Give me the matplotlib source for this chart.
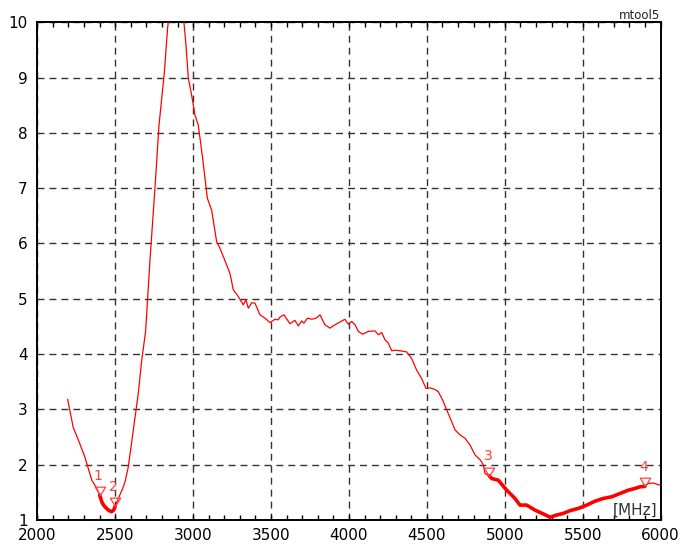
import numpy as np
import matplotlib
matplotlib.use("Agg")
import matplotlib.pyplot as plt
from matplotlib.ticker import MultipleLocator
from matplotlib.path import Path

# trace (MHz, value)
freq = [2195, 2230, 2270, 2305, 2350, 2380, 2400, 2415, 2430, 2445, 2460, 2477, 2490, 2500,
        2520, 2545, 2563, 2584, 2605, 2627, 2648, 2670, 2695, 2723, 2755, 2781, 2794, 2815,
        2836, 2860, 2900, 2930, 2941, 2954, 2969, 2990, 3012, 3033, 3061, 3091, 3119, 3151,
        3168, 3200, 3236, 3258, 3290, 3322, 3339, 3354, 3376, 3397, 3429, 3461, 3493, 3525,
        3546, 3557, 3583, 3621, 3653, 3675, 3697, 3711, 3733, 3761, 3789, 3814, 3846, 3878,
        3910, 3942, 3974, 3996, 4017, 4039, 4060, 4088, 4124, 4167, 4189, 4210, 4231, 4252,
        4274, 4295, 4327, 4370, 4402, 4434, 4466, 4494, 4520, 4552, 4573, 4601, 4627, 4659,
        4680, 4712, 4744, 4776, 4808, 4841, 4862, 4873, 4900, 4916, 4958, 5012, 5065, 5097,
        5140, 5193, 5247, 5290, 5333, 5376, 5419, 5472, 5526, 5578, 5632, 5686, 5739, 5793,
        5835, 5867, 5900, 5920, 5952, 5995]
value = [3.18, 2.68, 2.40, 2.14, 1.72, 1.58, 1.45, 1.32, 1.25, 1.21, 1.17, 1.15, 1.18, 1.25,
         1.39, 1.55, 1.69, 1.96, 2.40, 2.87, 3.29, 3.89, 4.41, 5.70, 7.00, 8.14, 8.50, 9.08,
         9.89, 10.5, 10.8, 10.5, 10.0, 9.59, 8.99, 8.69, 8.32, 8.14, 7.54, 6.82, 6.60, 6.03,
         5.94, 5.72, 5.46, 5.16, 5.04, 4.89, 4.98, 4.83, 4.93, 4.92, 4.71, 4.65, 4.57, 4.63,
         4.62, 4.67, 4.71, 4.55, 4.61, 4.51, 4.60, 4.56, 4.65, 4.63, 4.65, 4.71, 4.53, 4.47,
         4.53, 4.58, 4.63, 4.54, 4.59, 4.53, 4.41, 4.36, 4.41, 4.42, 4.35, 4.39, 4.26, 4.20,
         4.06, 4.07, 4.06, 4.04, 3.92, 3.71, 3.56, 3.38, 3.39, 3.36, 3.32, 3.17, 2.99, 2.78,
         2.63, 2.54, 2.48, 2.36, 2.18, 2.09, 2.00, 1.84, 1.80, 1.75, 1.72, 1.54, 1.39, 1.27,
         1.27, 1.18, 1.11, 1.05, 1.09, 1.12, 1.17, 1.21, 1.27, 1.34, 1.39, 1.42, 1.48, 1.54,
         1.57, 1.60, 1.61, 1.66, 1.67, 1.63]

# bands drawn thick, marker positions
bands = [(2400, 2500), (4900, 5900)]
marker_freq = [2400, 2500, 4900, 5900]
marker_label = ["1", "2", "3", "4"]

freq = np.array(freq)
value = np.array(value)

fig = plt.figure(figsize=(6.83, 5.46), dpi=100)
ax = fig.add_axes([0.0546, 0.0476, 0.9127, 0.9116])

ax.plot(freq, value, color="#ff0000", lw=0.9, zorder=3)
for lo, hi in bands:
    m = (freq >= lo) & (freq <= hi)
    ax.plot(freq[m], value[m], color="#ff0000", lw=2.6, solid_capstyle="round",
            solid_joinstyle="round", zorder=4)

# downward triangle with its tip on the trace
tri = Path([(-1, 1.6), (1, 1.6), (0, 0), (-1, 1.6)],
           [Path.MOVETO, Path.LINETO, Path.LINETO, Path.CLOSEPOLY])
marker_val = np.interp(marker_freq, freq, value)
for f, v, lab in zip(marker_freq, marker_val, marker_label):
    ax.plot([f], [v], marker=tri, markersize=12, markerfacecolor="none",
            markeredgecolor="#ff4040", markeredgewidth=0.9, zorder=5)
    ax.annotate(lab, (f, v), xytext=(-1, 14), textcoords="offset points",
                ha="center", va="center", color="#ff4040", fontsize=10, zorder=5)

ax.set_xlim(2000, 6000)
ax.set_ylim(1, 10)
ax.xaxis.set_major_locator(MultipleLocator(500))
ax.xaxis.set_minor_locator(MultipleLocator(100))
ax.yaxis.set_major_locator(MultipleLocator(1))
ax.tick_params(axis="x", which="both", direction="in", top=True, length=3.5,
               width=1, labelsize=11, pad=6)
ax.tick_params(axis="y", which="both", length=0, labelsize=11, pad=7)
ax.grid(True, color="#333333", lw=1, linestyle=(0, (5, 3.6)))
for s in ax.spines.values():
    s.set_linewidth(1.4)

ax.text(0.995, 0.005, "[MHz]", transform=ax.transAxes, ha="right", va="bottom",
        fontsize=11, color="#333333")
fig.text(0.967, 0.972, "mtool5", ha="right", va="center", fontsize=8.5, color="#222222")

fig.savefig("out.png", dpi=100)
